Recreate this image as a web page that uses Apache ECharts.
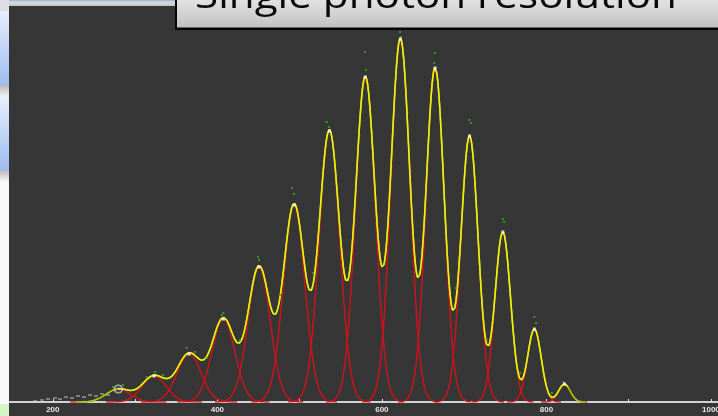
<!DOCTYPE html>
<html>
<head>
<meta charset="utf-8">
<script src="https://cdn.jsdelivr.net/npm/echarts@6/dist/echarts.min.js"></script>
<style>
  html, body { margin: 0; padding: 0; background: #363636; }
  #chart { width: 718px; height: 416px; }
</style>
</head>
<body>
<div id="chart"></div>
<script>
// fitted photon peaks
var peakCenters = [279.6, 323.0, 365.6, 407.3, 450.7, 493.3, 536.2, 579.9, 622.5, 664.7, 706.6, 747.0, 785.4, 821.9];
var peakHeights = [13, 26, 48, 83, 135, 197, 271, 325, 363, 334, 266, 170, 73, 18];
var peakSigmas = [14.6, 14.6, 14.6, 14.0, 13.4, 13.0, 12.5, 12.0, 11.6, 11.1, 10.5, 9.5, 8.3, 7.1];

// measured points (green) and pedestal noise (white)
var dataX = [273.2, 285.3, 314.2, 324.3, 334.0, 362.8, 372.9, 387.1, 405.4, 407.3, 427.6, 449.5, 450.7, 476.2, 490.8, 493.3, 516.4, 533.0, 535.8, 579.6, 580.8, 622.1, 623.3, 664.3, 663.5, 690.2, 706.4, 708.1, 727.5, 747.0, 748.6, 767.9, 785.4, 787.5, 806.6, 820.7];
var dataY = [15, 17, 25, 30, 27, 54, 50, 44, 87, 89, 62, 145, 142, 107, 214, 208, 129, 280, 275, 350, 332, 370, 365, 349, 339, 114, 282, 279, 62, 183, 180, 29, 85, 79, 9, 20];
var noiseX = [178.4, 186.9, 194.2, 202.7, 208.8, 216.0, 223.3, 230.6, 237.9, 245.2, 252.5, 259.8, 267.1];
var noiseY = [1, 2, 3, 4, 3, 5, 4, 6, 5, 7, 6, 8, 7];

var tickValues = [200, 300, 400, 500, 600, 700, 800, 900, 1000];
var labelValues = [200, 400, 600, 800, 1000];

function gauss(x, i) {
    var d = (x - peakCenters[i]) / peakSigmas[i];
    return peakHeights[i] * Math.exp(-0.5 * d * d);
}
function total(x) {
    var s = 0;
    for (var i = 0; i < peakCenters.length; i++) s += gauss(x, i);
    return s;
}
function totalCurve(from, to) {
    var pts = [];
    for (var x = from; x <= to; x += 0.5) pts.push([x, total(x)]);
    return pts;
}

var series = [];
for (var i = 0; i < peakCenters.length; i++) {
    var pts = [];
    var s = peakSigmas[i];
    for (var x = peakCenters[i] - 4 * s; x <= peakCenters[i] + 4 * s; x += s / 10) {
        pts.push([x, gauss(x, i)]);
    }
    series.push({
        type: 'line', data: pts, showSymbol: false, silent: true,
        lineStyle: { color: '#c8141c', width: 1.5 }, z: 2
    });
}
series.push({
    type: 'line', data: totalCurve(228, 848), showSymbol: false,
    lineStyle: { color: '#9ad40a', width: 1.6 }, z: 3
});
series.push({
    type: 'line', data: totalCurve(279, 826), showSymbol: false,
    lineStyle: { color: '#eeee10', width: 1.5 }, z: 4
});
series.push({
    type: 'scatter', symbol: 'rect', symbolSize: 2,
    data: dataX.map(function (x, k) { return [x, dataY[k]]; }),
    itemStyle: { color: '#3fae2a' }, z: 5
});
series.push({
    type: 'scatter', symbol: 'rect', symbolSize: [4, 1.2],
    data: noiseX.map(function (x, k) { return [x, noiseY[k]]; }),
    itemStyle: { color: '#d0d0d0' }, z: 5
});
series.push({
    type: 'scatter', symbol: 'rect', symbolSize: 3,
    data: peakCenters.slice(1).map(function (c, k) { return [c, peakHeights[k + 1]]; }),
    itemStyle: { color: '#ffffff' }, z: 6
});
series.push({
    type: 'scatter', symbol: 'circle', symbolSize: 8,
    data: [[peakCenters[0], peakHeights[0]]],
    itemStyle: { color: 'rgba(255,255,255,0.15)', borderColor: '#e0e0e0', borderWidth: 1.2 }, z: 6
});

var myChart = echarts.init(document.getElementById('chart'));
var option = {
    animation: false,
    backgroundColor: '#363636',
    grid: { left: 9, right: 0, top: 6, bottom: 14, containLabel: false, outerBoundsMode: 'none' },
    xAxis: {
        type: 'value', min: 146.7, max: 1008.6,
        splitLine: { show: false },
        axisLine: { show: true, lineStyle: { color: '#d2d2d2', width: 2 } },
        axisTick: { show: true, inside: true, length: 3, customValues: tickValues, lineStyle: { color: '#e0e0e0' } },
        axisLabel: {
            customValues: labelValues, color: '#e6e6e6', fontSize: 8, fontWeight: 'bold',
            fontFamily: 'Liberation Sans', margin: 4,
            formatter: function (v) { return String(v); }
        }
    },
    yAxis: { type: 'value', min: 0, max: 396, show: false },
    series: series,
    graphic: [
        // left window strip
        { type: 'rect', shape: { x: 0, y: 0, width: 9, height: 416 }, style: { fill: '#f8f8f8' }, z: 10 },
        { type: 'rect', shape: { x: 0, y: 0, width: 9, height: 11 }, style: { fill: '#dcdfe6' }, z: 10 },
        { type: 'rect', shape: { x: 0, y: 11, width: 9, height: 74 }, z: 10,
          style: { fill: new echarts.graphic.LinearGradient(0, 0, 0, 1, [{ offset: 0, color: '#e6eefc' }, { offset: 1, color: '#9ebcf0' }]) } },
        { type: 'rect', shape: { x: 0, y: 85, width: 9, height: 12 }, z: 10,
          style: { fill: new echarts.graphic.LinearGradient(0, 0, 0, 1, [{ offset: 0, color: '#b8b8b8' }, { offset: 1, color: '#f2f2f2' }]) } },
        { type: 'rect', shape: { x: 0, y: 97, width: 9, height: 73 }, z: 10,
          style: { fill: new echarts.graphic.LinearGradient(0, 0, 0, 1, [{ offset: 0, color: '#e6eefc' }, { offset: 1, color: '#9ebcf0' }]) } },
        { type: 'rect', shape: { x: 0, y: 170, width: 9, height: 12 }, z: 10,
          style: { fill: new echarts.graphic.LinearGradient(0, 0, 0, 1, [{ offset: 0, color: '#b8b8b8' }, { offset: 1, color: '#f8f8f8' }]) } },
        { type: 'rect', shape: { x: 0, y: 404, width: 9, height: 12 }, style: { fill: '#d4f6c4' }, z: 10 },
        // top strip
        { type: 'rect', shape: { x: 9, y: 0, width: 170, height: 6 }, z: 10,
          style: { fill: new echarts.graphic.LinearGradient(0, 0, 0, 1, [{ offset: 0, color: '#9fb0cc' }, { offset: 0.4, color: '#d8dbe2' }, { offset: 1, color: '#c4c4c4' }]) } },
        // title box
        { type: 'rect', shape: { x: 175, y: -2, width: 545, height: 32 }, style: { fill: '#050505' }, z: 11 },
        { type: 'rect', shape: { x: 177, y: -2, width: 543, height: 29.5 }, z: 12,
          style: { fill: new echarts.graphic.LinearGradient(0, 0, 0, 1, [{ offset: 0, color: '#e4e4e4' }, { offset: 1, color: '#c2c2c2' }]) } },
        { type: 'text', x: 195, y: -3, scaleX: 1.14, z: 13,
          style: { text: 'Single photon resolution', font: '37px "Open Sans"', fill: '#0a0a0a', verticalAlign: 'middle', align: 'left' } }
    ]
};
myChart.setOption(option);
</script>
</body>
</html>
